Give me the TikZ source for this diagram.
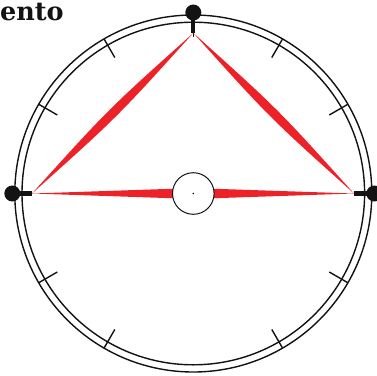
\documentclass[tikz,border=0pt]{standalone}
\usepackage{fontspec}
\newfontfamily\headfont{DejaVu Serif}
\usetikzlibrary{calc}
\definecolor{hand}{RGB}{236,34,40}
\definecolor{ink}{RGB}{20,18,18}
\begin{document}
\begin{tikzpicture}[x=1pt,y=-1pt,
  ring/.style={draw=ink,line width=1.4pt},
  tickmark/.style={draw=ink,line width=1.4pt},
  bar/.style={draw=ink,line width=4.2pt},
  knob/.style={circle,fill=ink,inner sep=0pt,minimum size=16pt},
  lens/.style={fill=hand,draw=none}]
\useasboundingbox (0,0) rectangle (377,375);
\coordinate (C) at (193.3,193.5);
% title fragment
\node[anchor=base west,inner sep=0pt,text=ink,font=\headfont\bfseries\fontsize{25.5}{25.5}\selectfont] (title) at (0,20) {ento};
% rings
\draw[ring] (C) circle (178.5);
\draw[ring] (C) circle (171.3);
% ticks
\foreach \a in {30,60,120,150,210,240,270,300,330}
  \draw[tickmark] ($(C)+(\a:157)$) -- ($(C)+(\a:178.5)$);
% vertices of the triangle
\coordinate (T) at (193.3,33);
\coordinate (L) at (32,193.5);
\coordinate (R) at (354,193.5);
% knobs and bars
\node[knob] (kt) at (193.3,12.5) {};
\node[knob] (kl) at (12.3,193.5) {};
\node[knob] (kr) at (374.3,193.5) {};
\draw[bar] (kt.center) -- (T);
\draw[bar] (kl.center) -- (L);
\draw[bar] (kr.center) -- (R);
% spindles of the triangle
\fill[lens] (T) .. controls ($($(T)!0.5!(L)$)!6pt!90:(L)$) .. (L)
            .. controls ($($(T)!0.5!(L)$)!6pt!-90:(L)$) .. (T) -- cycle;
\fill[lens] (T) .. controls ($($(T)!0.5!(R)$)!6pt!90:(R)$) .. (R)
            .. controls ($($(T)!0.5!(R)$)!6pt!-90:(R)$) .. (T) -- cycle;
% horizontal wedges
\fill[lens] (L) -- ($(C)+(-19,-4.8)$) -- ($(C)+(-19,4.8)$) -- cycle;
\fill[lens] (R) -- ($(C)+(19,-4.8)$) -- ($(C)+(19,4.8)$) -- cycle;
% hub
\node[circle,draw=ink,line width=1pt,fill=white,minimum size=41.6pt,inner sep=0pt] (hub) at (C) {};
\fill[ink] (hub.center) circle (0.9);
\end{tikzpicture}
\end{document}
